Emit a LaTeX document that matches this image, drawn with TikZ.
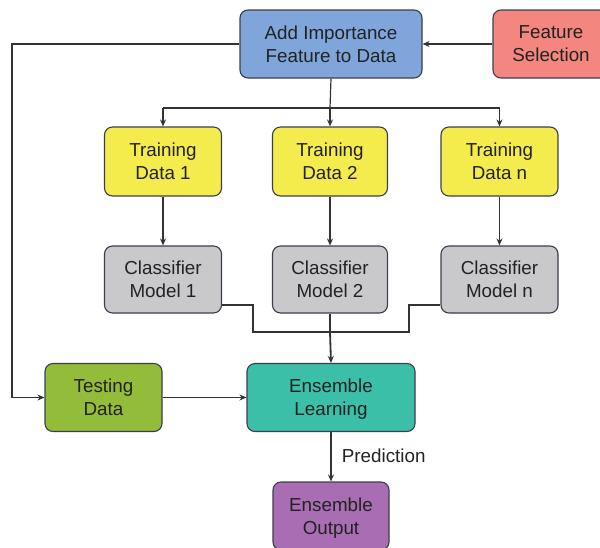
\documentclass[tikz,border=0pt]{standalone}
\usepackage{fontspec}
\setmainfont{Liberation Sans}
\usetikzlibrary{arrows.meta}
\definecolor{boxline}{HTML}{3A3F4E}
\definecolor{wire}{HTML}{333333}
\definecolor{ink}{HTML}{222222}
\definecolor{cblue}{HTML}{7FA5DB}
\definecolor{csalmon}{HTML}{F3877F}
\definecolor{cyellow}{HTML}{F4EC4C}
\definecolor{cgray}{HTML}{C9C9CB}
\definecolor{cgreen}{HTML}{93BC3B}
\definecolor{cteal}{HTML}{3CBFA9}
\definecolor{cpurple}{HTML}{A86DB3}
\tikzset{
  block/.style={draw=boxline, line width=1.1pt, rounded corners=8pt, align=center,
    text=ink, font=\fontsize{18.8}{23}\selectfont, inner sep=0pt, text depth=0pt},
  wireline/.style={draw=wire, line width=1.2pt},
  arr/.style={wireline, -{Stealth[length=7pt,width=6pt]}},
}
\begin{document}
\begin{tikzpicture}[x=1pt,y=-1pt]
\useasboundingbox (0,0) rectangle (600,547);
% boxes
\node[block, fill=cblue, minimum width=182pt, minimum height=68pt] (add) at (331,44) {Add Importance\\Feature to Data};
\node[block, fill=csalmon, minimum width=116pt, minimum height=68pt] (feat) at (551,44) {Feature\\Selection};
\node[block, fill=cyellow, minimum width=117pt, minimum height=69pt] (t1) at (163,161.5) {Training\\Data 1};
\node[block, fill=cyellow, minimum width=115pt, minimum height=69pt] (t2) at (330,161.5) {Training\\Data 2};
\node[block, fill=cyellow, minimum width=117pt, minimum height=69pt] (tn) at (499.5,161.5) {Training\\Data n};
\node[block, fill=cgray, minimum width=117pt, minimum height=67pt] (c1) at (163,279.5) {Classifier\\Model 1};
\node[block, fill=cgray, minimum width=115pt, minimum height=67pt] (c2) at (330,279.5) {Classifier\\Model 2};
\node[block, fill=cgray, minimum width=117pt, minimum height=67pt] (cn) at (499.5,279.5) {Classifier\\Model n};
\node[block, fill=cgreen, minimum width=117pt, minimum height=68pt] (test) at (103.5,397.5) {Testing\\Data};
\node[block, fill=cteal, minimum width=168pt, minimum height=68pt] (ens) at (331,397.5) {Ensemble\\Learning};
\node[block, fill=cpurple, minimum width=116pt, minimum height=68pt] (out) at (331,516) {Ensemble\\Output};
% routing points
\coordinate (split) at (330,108);
\coordinate (join) at (330,332);
% feature selection feeds the augmented data
\draw[arr] (feat.west) -- (add.east);
% augmented data also goes to testing
\draw[arr] (add.west) -- (12,44) -- (12,397.5) -- (test.west);
% split into training sets
\draw[wireline] (add.south) -- (split);
\draw[wireline] (t1.north |- split) -- (tn.north |- split);
\draw[arr] (t1.north |- split) -- (t1.north);
\draw[arr] (split) -- (t2.north);
\draw[arr] (tn.north |- split) -- (tn.north);
% training to classifiers
\draw[arr] (t1) -- (c1);
\draw[arr] (t2) -- (c2);
\draw[arr] (tn) -- (cn);
% classifiers merge into the ensemble
\draw[wireline] (c1.east |- 0,305) -- (253,305) -- (253,332) -- (409,332) -- (409,305) -- (cn.west |- 0,305);
\draw[wireline] (c2.south) -- (join);
\draw[arr, line width=1.8pt] (join) -- (ens.north);
\draw[arr] (test.east) -- (ens.west);
\draw[arr] (ens.south) -- node[right, xshift=7pt, yshift=1pt, text=ink, font=\fontsize{18.8}{22}\selectfont] {Prediction} (out.north);
\end{tikzpicture}
\end{document}
